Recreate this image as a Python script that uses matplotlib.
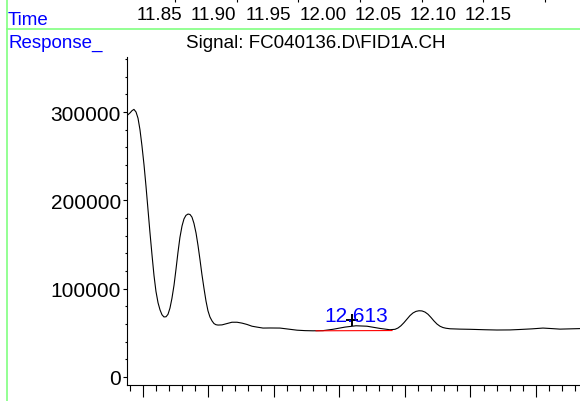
import matplotlib
matplotlib.use('Agg')
import matplotlib.pyplot as plt
from matplotlib.lines import Line2D
from matplotlib.ticker import MultipleLocator, NullFormatter

plt.rcParams['font.family'] = ['Liberation Sans', 'DejaVu Sans']

# FID signal trace (time in min, response counts)
time = [12.4378, 12.4401, 12.4416, 12.4431, 12.4447, 12.4462, 12.4477, 12.4492,
        12.4508, 12.4523, 12.4538, 12.4553, 12.4569, 12.4584, 12.4599, 12.4615,
        12.4630, 12.4645, 12.4660, 12.4676, 12.4691, 12.4706, 12.4721, 12.4737,
        12.4752, 12.4767, 12.4782, 12.4798, 12.4813, 12.4828, 12.4844, 12.4859,
        12.4874, 12.4889, 12.4905, 12.4920, 12.4935, 12.4950, 12.4966, 12.4981,
        12.4996, 12.5011, 12.5027, 12.5042, 12.5057, 12.5073, 12.5103, 12.5141,
        12.5179, 12.5218, 12.5256, 12.5294, 12.5332, 12.5370, 12.5416, 12.5469,
        12.5546, 12.5622, 12.5676, 12.5737, 12.5798, 12.5874, 12.5950, 12.6042,
        12.6126, 12.6210, 12.6309, 12.6385, 12.6424, 12.6447, 12.6469, 12.6492,
        12.6515, 12.6538, 12.6561, 12.6584, 12.6607, 12.6630, 12.6653, 12.6676,
        12.6698, 12.6721, 12.6744, 12.6767, 12.6790, 12.6813, 12.6844, 12.6920,
        12.6996, 12.7111, 12.7202, 12.7302, 12.7378, 12.7469, 12.7553, 12.7622,
        12.7683, 12.7760, 12.7836]
response = [296000, 299000, 301500, 303000, 300000, 293000, 280000, 262000,
            240000, 216000, 190000, 164000, 138000, 115000, 97000, 84000,
            76000, 70500, 68000, 68200, 71000, 78000, 89000, 104000,
            122000, 141000, 158000, 171000, 179000, 183000, 184500, 184000,
            181000, 174000, 163000, 149000, 133000, 116000, 100000, 86000,
            75000, 68000, 63500, 60500, 59200, 58800, 59000, 60500,
            62000, 62000, 61000, 59500, 57500, 56500, 55400, 55500,
            55400, 54000, 53000, 52500, 52300, 52500, 54000, 56500,
            58000, 57500, 55000, 53500, 54000, 55500, 58000, 61500,
            65500, 69500, 72500, 74300, 75000, 74800, 73500, 71000,
            67500, 63500, 60000, 57500, 56000, 55200, 54600, 54200,
            54000, 53500, 53200, 53300, 53800, 54500, 55400, 54800,
            54200, 54500, 54800]

# integrated peak
peak_label = '12.613'
peak_rt = 12.6126
label_y = 63400
apex_t, apex_y = 12.6095, 64500
baseline_t = [12.5821, 12.6401]
baseline_y = [52300, 52600]

# header time scale
top_times = [11.85, 11.90, 11.95, 12.00, 12.05, 12.10, 12.15]
top_marks = [11.8646, 11.9211, 11.9767, 12.0333, 12.0898, 12.1454, 12.2020]

W, H = 580, 402
blue = '#0000ff'
green = '#80ff80'

fig = plt.figure(figsize=(W / 100, H / 100), dpi=100)

# main chromatogram
ax = fig.add_axes([127 / W, 16 / H, 453 / W, 328 / H])
ax.plot(time, response, color='black', lw=0.8)
ax.plot(baseline_t, baseline_y, color='red', lw=0.8)
ax.plot([apex_t], [apex_y], marker='+', color='black', ms=8, mew=1.4)
ax.text(peak_rt, label_y, peak_label, color=blue, fontsize=15,
        ha='center', va='baseline')

ax.set_xlim(12.4378, 12.7836)
ax.set_ylim(-9060, 362300)
for s in ['top', 'right']:
    ax.spines[s].set_visible(False)
for s in ['left', 'bottom']:
    ax.spines[s].set_linewidth(0.8)

ax.set_yticks([0, 100000, 200000, 300000])
ax.yaxis.set_minor_locator(MultipleLocator(20000))
ax.xaxis.set_major_locator(MultipleLocator(0.05))
ax.xaxis.set_minor_locator(MultipleLocator(0.01))
ax.xaxis.set_major_formatter(NullFormatter())
ax.tick_params(axis='y', which='major', length=3, width=0.8, pad=1.5, labelsize=15)
ax.tick_params(axis='y', which='minor', length=1.8, width=0.8)
ax.tick_params(axis='x', which='major', length=8.6, width=0.8)
ax.tick_params(axis='x', which='minor', length=4.3, width=0.8)

# header strip with the time scale
ax_top = fig.add_axes([7 / W, 1 - 30 / H, (W - 7) / W, 30 / H])
ax_top.set_xlim(11.7114, 12.2339)
ax_top.set_ylim(0, 1)
for s in ax_top.spines.values():
    s.set_visible(False)
ax_top.set_yticks([])
ax_top.xaxis.set_ticks_position('top')
ax_top.set_xticks(top_marks)
ax_top.tick_params(axis='x', direction='in', length=2.2, width=0.8,
                   labeltop=False, labelbottom=False)
for t in top_times:
    ax_top.text(t, 1 - 20 / 30, f'{t:.2f}', transform=ax_top.get_xaxis_transform(),
                fontsize=13.5, ha='center', va='baseline')

fig.add_artist(Line2D([7 / W, 1], [1 - 30 / H, 1 - 30 / H], color=green, lw=1.2))
fig.add_artist(Line2D([7 / W, 7 / W], [0, 1], color=green, lw=1.2))

fig.text(8 / W, 1 - 25 / H, 'Time', color=blue, fontsize=13.5, va='baseline')
fig.text(8 / W, 1 - 48 / H, 'Response_', color=blue, fontsize=13.5, va='baseline')
fig.text(316 / W, 1 - 48 / H, 'Signal: FC040136.D\\FID1A.CH', fontsize=13.5,
         ha='center', va='baseline')

fig.savefig('out.png', dpi=100)
